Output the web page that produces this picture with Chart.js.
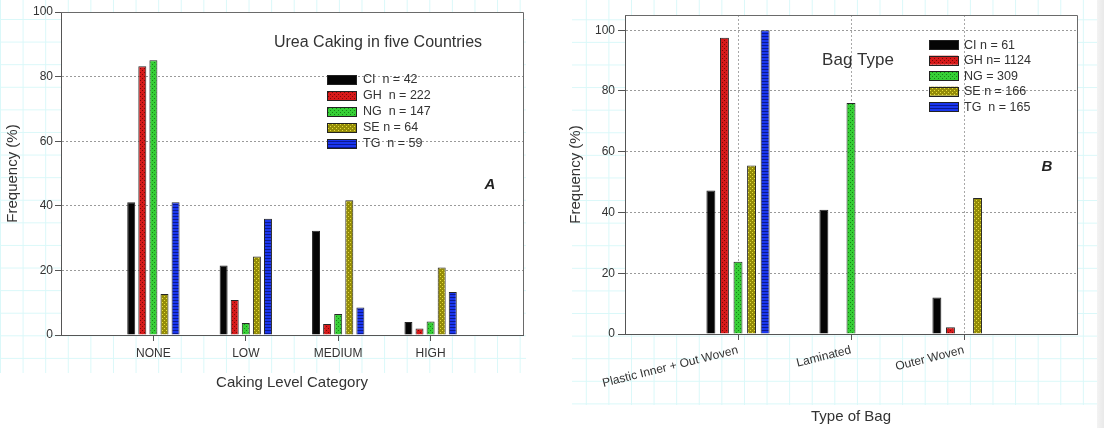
<!DOCTYPE html>
<html><head><meta charset="utf-8">
<script src="https://cdn.jsdelivr.net/npm/chart.js@4/dist/chart.umd.min.js"></script>
<style>
html,body{margin:0;padding:0;background:#fff;width:1104px;height:428px;overflow:hidden;position:relative}
.paper{position:absolute;background-image:linear-gradient(to right,#daf8f9 1px,transparent 1px),linear-gradient(to bottom,#daf8f9 1px,transparent 1px);background-size:22.6px 22.6px}
#pa{left:0;top:0;width:526px;height:373px;background-position:0px 19px}
#pb{left:572px;top:0;width:525px;height:405px;background-position:13.8px 19.3px}
#edge{position:absolute;left:1097px;top:0;width:7px;height:428px;background:linear-gradient(to right,#f3f3f3,#e9e9e9)}
canvas{position:absolute;top:0}
#ca{left:0}
#cb{left:560px}
</style>
</head><body>
<div class="paper" id="pa"></div>
<div class="paper" id="pb"></div>
<div id="edge"></div>
<canvas id="ca" width="545" height="428"></canvas>
<canvas id="cb" width="544" height="428"></canvas>
<script>
// ---- Data: Panel A (Urea caking) ----
const cakingLevels = ['NONE', 'LOW', 'MEDIUM', 'HIGH'];
const cakingCI = [41.1, 21.5, 32.3, 4.0];
const cakingGH = [83.2, 10.8, 3.4, 2.0];
const cakingNG = [85.1, 3.7, 6.5, 4.2];
const cakingSE = [12.7, 24.3, 41.7, 20.9];
const cakingTG = [41.1, 36.0, 8.5, 13.3];
const cakingLegend = ['CI  n = 42', 'GH  n = 222', 'NG  n = 147', 'SE n = 64', 'TG  n = 59'];

// ---- Data: Panel B (Bag type) ----
const bagTypes = ['Plastic Inner + Out Woven', 'Laminated', 'Outer Woven'];
const bagCI = [47.2, 40.9, 12.0];
const bagGH = [97.5, null, 2.2];
const bagNG = [23.8, 76.0, null];
const bagSE = [55.5, null, 44.8];
const bagTG = [100.0, null, null];
const bagLegend = ['CI n = 61', 'GH n= 1124', 'NG = 309', 'SE n = 166', 'TG  n = 165'];

Chart.defaults.font.family = '"Liberation Sans", Arial, sans-serif';
Chart.defaults.color = '#333';

function makePattern(base, mark, kind) {
  const c = document.createElement('canvas');
  const n = kind === 'hlines' ? 3 : 4;
  c.width = n; c.height = n;
  const g = c.getContext('2d');
  g.fillStyle = base; g.fillRect(0, 0, n, n);
  g.fillStyle = mark;
  if (kind === 'dots') { g.fillRect(0, 0, 1, 1); g.fillRect(2, 2, 1, 1); }
  else if (kind === 'hlines') { g.fillRect(0, 0, n, 1); }
  return g.createPattern(c, 'repeat');
}
const fills = [
  '#050505',
  makePattern('#d61a1a', '#7e0606', 'dots'),
  makePattern('#36cf36', '#178217', 'dots'),
  makePattern('#948c08', '#e6dd3a', 'dots'),
  makePattern('#1a36ee', '#0b1890', 'hlines')
];

function toPoints(vals) { return vals.map((v, i) => ({x: i + 1, y: v})); }
function makeDatasets(series, labels, barPct) {
  return series.map((vals, k) => ({
    label: labels[k], data: toPoints(vals), backgroundColor: fills[k],
    borderColor: '#262626', borderWidth: 1, borderSkipped: 'start',
    categoryPercentage: 0.6, barPercentage: barPct
  }));
}

const deco = {
  id: 'deco',
  beforeDraw(chart) {
    const {ctx, chartArea: a} = chart;
    ctx.save(); ctx.fillStyle = '#fff'; ctx.fillRect(a.left, a.top, a.width, a.height); ctx.restore();
  },
  afterDraw(chart, args, o) {
    const {ctx, chartArea: a} = chart;
    ctx.save();
    ctx.strokeStyle = '#6a6a6a'; ctx.lineWidth = 1;
    ctx.beginPath();
    ctx.moveTo(a.left, Math.round(a.top) + 0.5);
    ctx.lineTo(Math.round(a.right) + 0.5, Math.round(a.top) + 0.5);
    ctx.lineTo(Math.round(a.right) + 0.5, a.bottom);
    ctx.stroke();
    const L = o.legend;
    chart.data.datasets.forEach((ds, i) => {
      const y = L.y + i * L.step;
      ctx.fillStyle = ds.backgroundColor;
      ctx.fillRect(L.x, y - L.h / 2, L.w, L.h);
      ctx.strokeStyle = '#222'; ctx.lineWidth = 1;
      ctx.strokeRect(L.x + 0.5, Math.round(y - L.h / 2) + 0.5, L.w, L.h);
      ctx.fillStyle = '#333';
      ctx.font = L.font;
      ctx.textAlign = 'left'; ctx.textBaseline = 'middle';
      ctx.fillText(ds.label, L.x + L.w + L.gap, y + 0.5);
    });
    (o.texts || []).forEach(t => {
      ctx.font = t.font; ctx.fillStyle = t.color || '#333';
      ctx.textAlign = 'center'; ctx.textBaseline = 'middle';
      ctx.fillText(t.text, t.x, t.y);
    });
    ctx.restore();
  }
};

const clear = 'rgba(0,0,0,0)';

// ---- Chart A ----
new Chart(document.getElementById('ca'), {
  type: 'bar',
  data: { datasets: makeDatasets([cakingCI, cakingGH, cakingNG, cakingSE, cakingTG], cakingLegend, 0.72) },
  plugins: [deco],
  options: {
    responsive: false, animation: false, devicePixelRatio: 1,
    layout: { padding: { top: 12, right: 22, left: 0, bottom: 0 } },
    plugins: {
      legend: { display: false }, tooltip: { enabled: false },
      deco: {
        legend: { x: 327, y: 79.5, step: 16, w: 29, h: 9, gap: 7, font: '12.5px "Liberation Sans", Arial, sans-serif' },
        texts: [
          { text: 'Urea Caking in five Countries', x: 378, y: 43, font: '16px "Liberation Sans", Arial, sans-serif' },
          { text: 'A', x: 490, y: 185, font: 'italic bold 15px "Liberation Sans", Arial, sans-serif', color: '#222' }
        ]
      }
    },
    scales: {
      x: {
        type: 'linear', min: 0, max: 5, offset: false,
        ticks: { stepSize: 1, autoSkip: false, minRotation: 0, maxRotation: 0, padding: 5, font: { size: 12 }, color: '#333',
          callback: v => cakingLevels[v - 1] || '' },
        grid: { offset: false, drawOnChartArea: false, color: clear, tickLength: 6,
          tickColor: c => (c.tick && cakingLevels[c.tick.value - 1]) ? '#555' : clear },
        border: { color: '#555', width: 1 },
        title: { display: true, text: 'Caking Level Category', font: { size: 15 }, color: '#333', padding: { top: 0, bottom: 36 } },
        afterFit: s => { s.height = 93; }
      },
      y: {
        min: 0, max: 100,
        ticks: { stepSize: 20, padding: 2, font: { size: 12 }, color: '#333' },
        grid: { color: c => (c.tick && c.tick.value > 0 && c.tick.value < 100) ? '#9a9a9a' : clear, tickLength: 6, tickColor: '#555' },
        border: { color: '#555', width: 1, dash: [2, 2] },
        title: { display: true, text: 'Frequency (%)', font: { size: 15 }, color: '#333', padding: { top: 4, bottom: 0 } },
        afterFit: s => { s.width = 61; }
      }
    }
  }
});

// ---- Chart B ----
new Chart(document.getElementById('cb'), {
  type: 'bar',
  data: { datasets: makeDatasets([bagCI, bagGH, bagNG, bagSE, bagTG], bagLegend, 0.66) },
  plugins: [deco],
  options: {
    responsive: false, animation: false, devicePixelRatio: 1,
    layout: { padding: { top: 15, right: 27, left: 0, bottom: 0 } },
    plugins: {
      legend: { display: false }, tooltip: { enabled: false },
      deco: {
        legend: { x: 369, y: 44.7, step: 15.5, w: 29, h: 9, gap: 6, font: '12.5px "Liberation Sans", Arial, sans-serif' },
        texts: [
          { text: 'Bag Type', x: 298, y: 60, font: '17px "Liberation Sans", Arial, sans-serif' },
          { text: 'B', x: 487, y: 167, font: 'italic bold 15px "Liberation Sans", Arial, sans-serif', color: '#222' }
        ]
      }
    },
    scales: {
      x: {
        type: 'linear', min: 0, max: 4, offset: false,
        ticks: { stepSize: 1, autoSkip: false, minRotation: 14, maxRotation: 14, padding: 3, font: { size: 12 }, color: '#333',
          callback: v => bagTypes[v - 1] || '' },
        grid: { offset: false, color: c => (c.tick && bagTypes[c.tick.value - 1]) ? '#a8a8a8' : clear, tickLength: 6,
          tickColor: c => (c.tick && bagTypes[c.tick.value - 1]) ? '#555' : clear },
        border: { color: '#555', width: 1, dash: [2, 2] },
        title: { display: true, text: 'Type of Bag', font: { size: 15 }, color: '#333', padding: { top: 0, bottom: 2 } },
        afterFit: s => { s.height = 94; }
      },
      y: {
        min: 0, max: 105,
        afterBuildTicks: s => { s.ticks = s.ticks.filter(t => t.value % 20 === 0); },
        ticks: { stepSize: 20, padding: 3, font: { size: 12 }, color: '#333' },
        grid: { color: c => (c.tick && c.tick.value > 0) ? '#9a9a9a' : clear, tickLength: 7, tickColor: '#555' },
        border: { color: '#555', width: 1, dash: [2, 2] },
        title: { display: true, text: 'Frequency (%)', font: { size: 15 }, color: '#333', padding: { top: 7, bottom: 0 } },
        afterFit: s => { s.width = 65; }
      }
    }
  }
});
</script>
</body></html>
